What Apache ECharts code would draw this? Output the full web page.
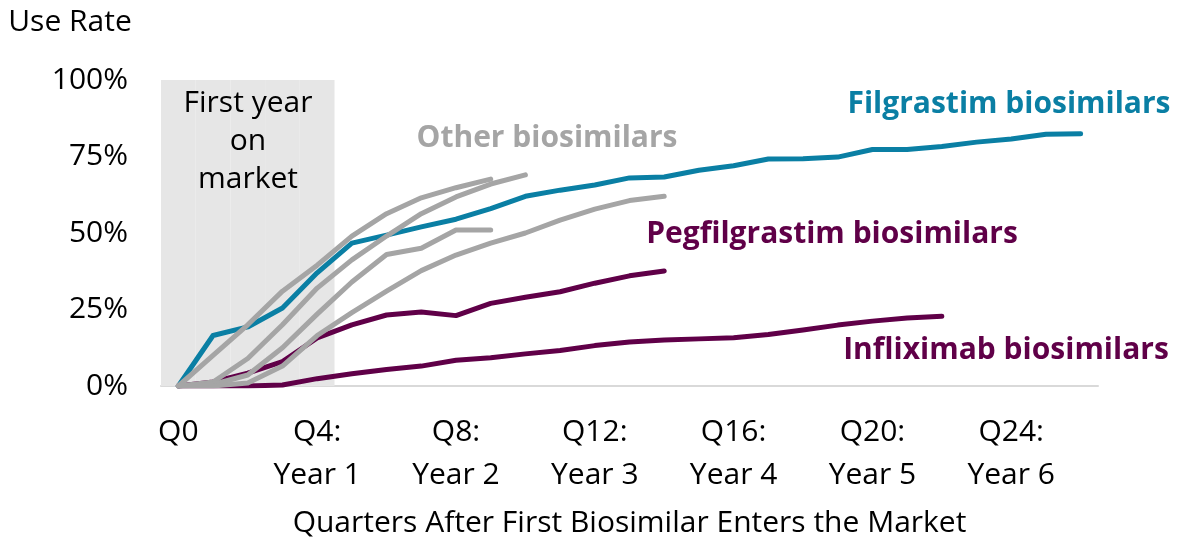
<!DOCTYPE html>
<html>
<head>
<meta charset="utf-8">
<script src="https://cdn.jsdelivr.net/npm/echarts@6/dist/echarts.min.js"></script>
<style>
  html, body { margin: 0; padding: 0; background: #fff; }
  #chart { width: 1183px; height: 541px; }
</style>
</head>
<body>
<div id="chart"></div>
<script>
// quarters after first biosimilar enters the market
var quarters = [];
for (var i = 0; i <= 26; i++) quarters.push('Q' + i);

// labels shown every 4th quarter
var tickLabels = ['Q0', 'Q4:\nYear 1', 'Q8:\nYear 2', 'Q12:\nYear 3', 'Q16:\nYear 4', 'Q20:\nYear 5', 'Q24:\nYear 6'];

// first year on market band (Q0..Q4)
var firstYear = [100, 100, 100, 100, 100];

// use rates, %
var filgrastim = [0, 16.5, 19.3, 25.5, 37, 46.7, 49.3, 52, 54.5, 58, 62, 64, 65.7, 68, 68.3, 70.5, 72, 74.2, 74.3, 74.8, 77.3, 77.3, 78.3, 79.7, 80.7, 82.3, 82.4];
var pegfilgrastim = [0, 1.3, 4.2, 8, 15.7, 20, 23.2, 24.2, 23, 27, 29, 30.8, 33.6, 36, 37.6];
var infliximab = [0, 0, 0, 0.3, 2.4, 4, 5.4, 6.5, 8.4, 9.2, 10.5, 11.6, 13.2, 14.4, 15, 15.4, 15.8, 16.8, 18.3, 19.9, 21.2, 22.2, 22.8];
var otherA = [0, 10, 20, 31, 39.5, 49, 56.3, 61.5, 64.8, 67.6];
var otherB = [0, 1.3, 9, 20, 32, 41.2, 49, 56.3, 61.8, 66, 69];
var otherC = [0, 0.5, 3.6, 12.5, 23.5, 34, 43, 45, 51, 51];
var otherD = [0, 0, 1, 6.5, 16.5, 24, 31, 37.7, 42.8, 46.7, 50, 54.2, 57.8, 60.6, 62];

var FONT = 'Open Sans';
var FS = 30;
var TEAL = '#0a7fa4';
var PURPLE = '#600048';
var GRAY = '#a5a5a5';

var byId = function(id) {
	return document.getElementById(id);
};

function line(name, data, color) {
	return {
		name: name,
		type: 'line',
		data: data,
		symbol: 'none',
		silent: true,
		lineStyle: { color: color, width: 5, cap: 'round', join: 'round' },
		z: 3
	};
}

function txt(text, x, y, color, bold, lh) {
	return {
		type: 'text',
		x: x,
		y: y,
		z: 100,
		silent: true,
		style: {
			text: text,
			fill: color,
			font: (bold ? 'bold ' : '') + FS + 'px "' + FONT + '"',
			fontFamily: FONT,
			fontSize: FS,
			fontWeight: bold ? 'bold' : 'normal',
			lineHeight: lh || 40,
			align: 'center',
			verticalAlign: 'middle',
			textAlign: 'center',
			textVerticalAlign: 'middle'
		}
	};
}

var chart = echarts.init(byId('chart'));
chart.setOption({
	animation: false,
	backgroundColor: '#fff',
	grid: { left: 161, right: 85, top: 80, bottom: 155, containLabel: false, outerBoundsMode: 'none' },
	xAxis: {
		type: 'category',
		data: quarters,
		boundaryGap: true,
		axisLine: { lineStyle: { color: '#d9d9d9', width: 2 } },
		axisTick: { show: false },
		axisLabel: {
			interval: 3,
			margin: 25,
			color: '#000',
			fontFamily: FONT,
			fontSize: FS,
			lineHeight: 43,
			verticalAlign: 'top',
			formatter: function(v, idx) {
				return tickLabels[idx / 4];
			}
		},
		name: 'Quarters After First Biosimilar Enters the Market',
		nameLocation: 'middle',
		nameGap: 122,
		nameTextStyle: { color: '#000', fontFamily: FONT, fontSize: FS }
	},
	yAxis: {
		type: 'value',
		min: 0,
		max: 100,
		interval: 25,
		splitLine: { show: false },
		axisLine: { show: false },
		axisTick: { show: false },
		axisLabel: {
			margin: 33,
			color: '#000',
			fontFamily: FONT,
			fontSize: FS,
			formatter: '{value}%'
		}
	},
	series: [
		{
			name: 'First year on market',
			type: 'bar',
			data: firstYear,
			barWidth: '100%',
			barCategoryGap: '0%',
			silent: true,
			itemStyle: { color: '#e6e6e6' },
			z: 1
		},
		line('Filgrastim biosimilars', filgrastim, TEAL),
		line('Pegfilgrastim biosimilars', pegfilgrastim, PURPLE),
		line('Infliximab biosimilars', infliximab, PURPLE),
		line('Other biosimilars A', otherA, GRAY),
		line('Other biosimilars B', otherB, GRAY),
		line('Other biosimilars C', otherC, GRAY),
		line('Other biosimilars D', otherD, GRAY)
	],
	graphic: [
		txt('Use Rate', 70, 22, '#000', false),
		txt('First year\non\nmarket', 248, 141, '#000', false, 38),
		txt('Other biosimilars', 547, 138, GRAY, true),
		txt('Filgrastim biosimilars', 1009, 104, TEAL, true),
		txt('Pegfilgrastim biosimilars', 832, 234, PURPLE, true),
		txt('Infliximab biosimilars', 1006, 350, PURPLE, true)
	]
});
</script>
</body>
</html>
